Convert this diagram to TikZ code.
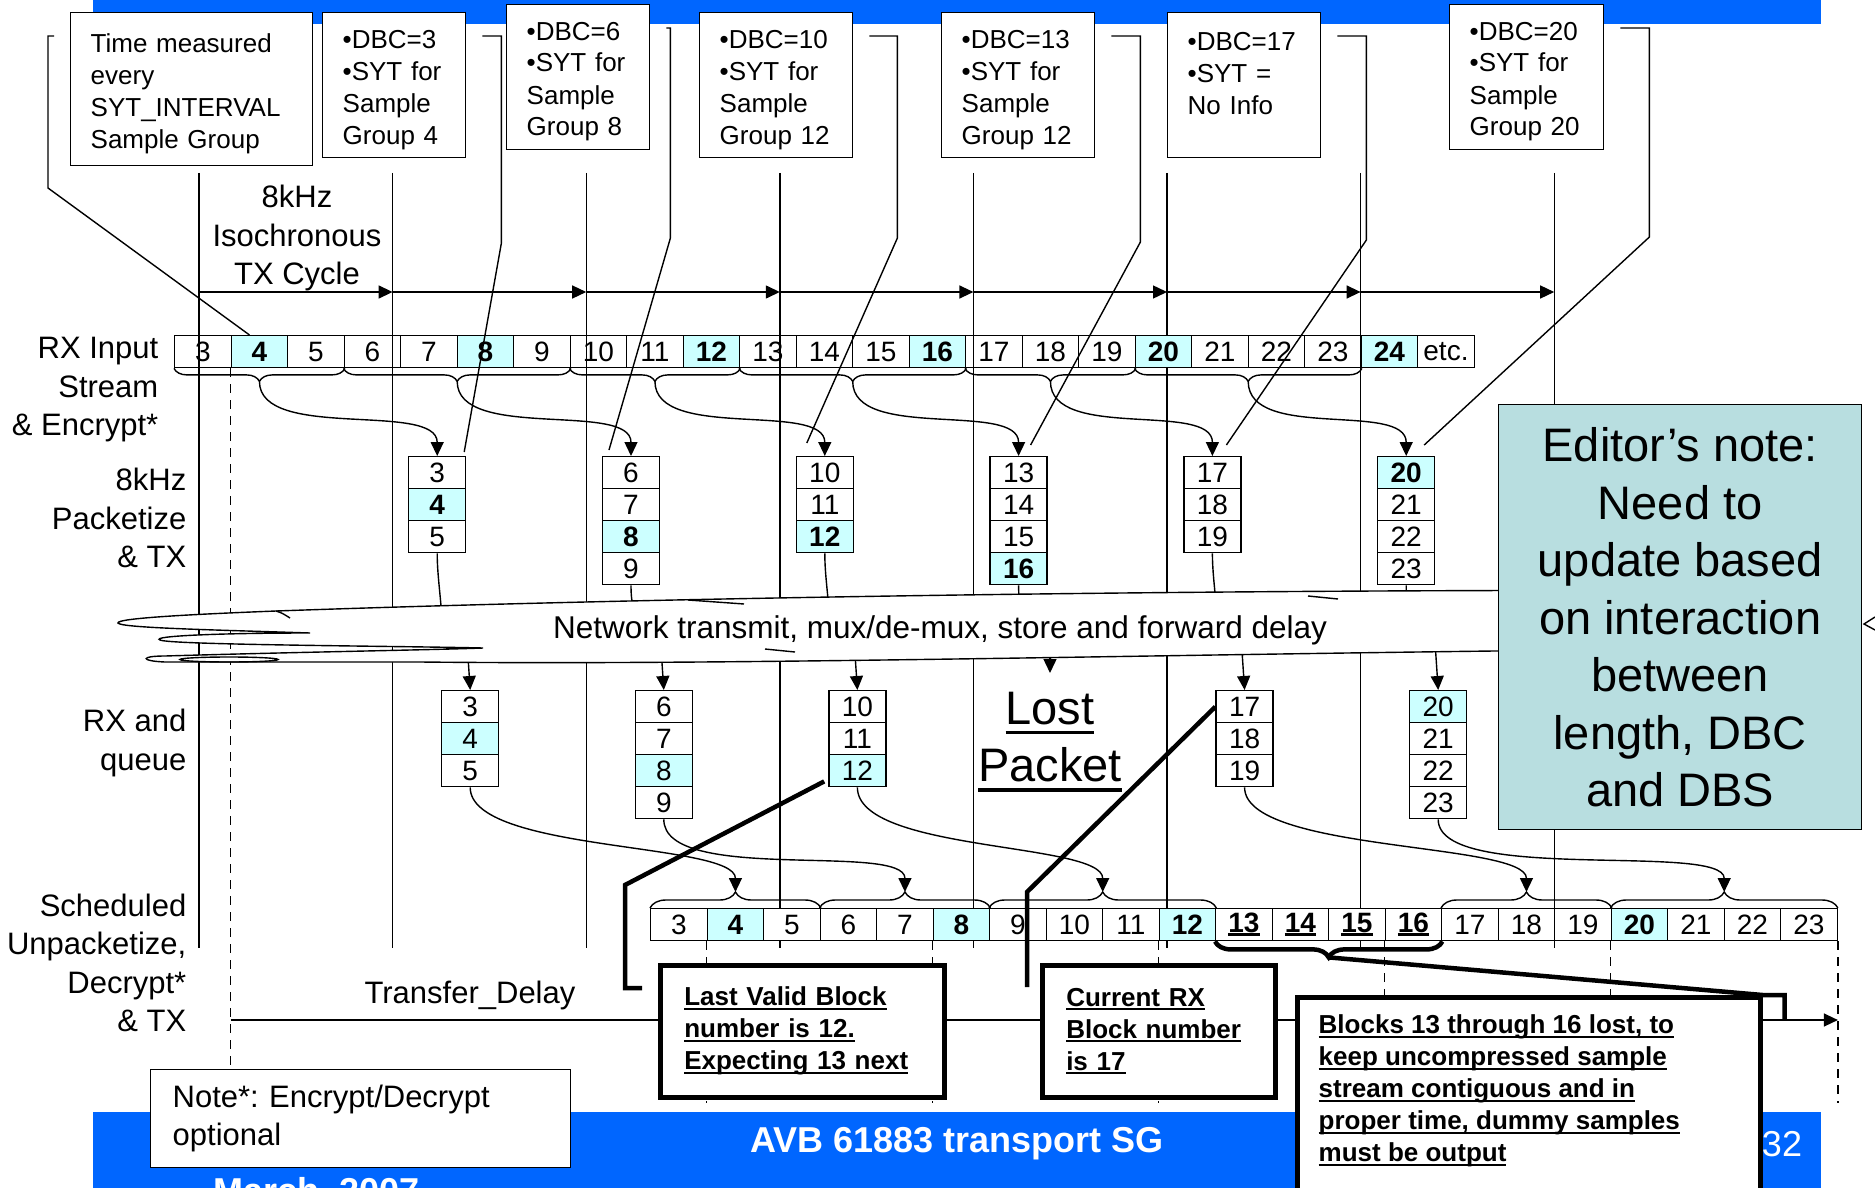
\documentclass[tikz,border=0pt]{standalone}
\usepackage{fontspec}
\setmainfont{Liberation Sans}
\usetikzlibrary{calc, arrows.meta, decorations.pathreplacing}

\definecolor{barblue}{HTML}{0066FF}
\definecolor{hotcyan}{HTML}{CCFFFF}
\definecolor{notegreen}{HTML}{B8DEE0}

\newcommand{\cellfont}{\fontsize{28}{32}\selectfont}
\newcommand{\boxfont}{\fontsize{26}{32}\selectfont}
\newcommand{\sidefont}{\fontsize{31}{38.5}\selectfont}
\newcommand{\edfont}{\fontsize{47}{57.5}\selectfont}
\newcommand{\callfont}{\fontsize{26}{32}\selectfont\bfseries}
\newcommand{\barfont}{\fontsize{36}{40}\selectfont}
% thick underline: depth, thickness, text
\newcommand{\barunder}[3]{\leavevmode\setbox0=\hbox{#3}\rlap{\rule[-#1]{\wd0}{#2}}\box0}
% pushes box text a little down
\newcommand{\topgap}{\rule{0pt}{27pt}}

\begin{document}
\frenchspacing
\begin{tikzpicture}[x=1pt, y=-1pt, line width=1.4pt,
  cell/.style={draw, minimum width=56.5pt, minimum height=32pt, inner sep=0pt, anchor=north west, font=\cellfont},
  hot/.style={cell, fill=hotcyan, font=\cellfont\bfseries},
  ocell/.style={cell, fill=white},
  pk/.style={cell, fill=white, minimum width=57pt},
  pkhot/.style={pk, fill=hotcyan, font=\cellfont\bfseries},
  qhot/.style={pk, fill=hotcyan},
  dbc/.style={draw, fill=white, anchor=north west, align=left, inner xsep=20pt, inner ysep=0pt,
    minimum height=145pt, font=\boxfont, text width=#1},
  side/.style={anchor=east, align=right, inner sep=0pt, font=\sidefont},
  callbox/.style={draw, line width=4.5pt, fill=white, anchor=north west, align=left,
    inner xsep=24pt, minimum height=132pt, font=\callfont},
  callline/.style={line width=4.5pt},
  dashline/.style={dash pattern=on 9pt off 7pt},
  flow/.style={-{Triangle[length=14pt,width=13pt]}}]

  % page and slide bars
  \useasboundingbox (0,0) rectangle (1875,1188);
  \clip (0,0) rectangle (1875,1188);
  \fill[white] (0,0) rectangle (1875,1188);
  \fill[barblue] (93,0) rectangle (1821,24);
  \fill[barblue] (93,1112) rectangle (1821,1188);

  \coordinate (cyc) at (0,292);
  \coordinate (mid) at (0,630);
  \coordinate (trl) at (0,1020);

  % 8kHz cycle grid
  \foreach \i in {0,...,7} {
    \coordinate (up\i) at ({199+193.6*\i}, 173);
    \coordinate (dn\i) at ({199+193.6*\i}, 948);
    \draw (up\i) -- (dn\i);
  }
  \foreach \i in {0,...,6} {
    \pgfmathtruncatemacro\j{\i+1}
    \draw[flow] (up\i |- cyc) -- (up\j |- cyc);
  }
  \node[font=\sidefont, align=center] (cycle) at (297,238) {8kHz\\Isochronous\\TX Cycle};

  % RX input stream
  \foreach \k in {3,...,24} {
    \pgfmathtruncatemacro\m{mod(\k,4)}
    \ifnum\m=0
      \node[hot] (r\k) at ({174+(\k-3)*56.5}, 335) {\k};
    \else
      \node[cell] (r\k) at ({174+(\k-3)*56.5}, 335) {\k};
    \fi
  }
  \node[cell] (retc) at (1417,335) {etc.};
  \draw[dashline] (r4.south west) -- ++(0,698);

  % row labels
  \node[side] (lin) at (159,390) {RX Input\\Stream\\\& Encrypt*};
  \node[side] (lpk) at (187,518) {8kHz\\Packetize\\\& TX};
  \node[side] (lrx) at (187,743) {RX and\\queue};
  \node[side] (lsc) at (187,963) {Scheduled\\Unpacketize,\\Decrypt*\\\& TX};

  % SYT boxes
  \node[dbc=202pt, minimum height=153pt] (tm) at (70,12) {\topgap Time measured\\every\\SYT\_INTERVAL\\Sample Group};
  \node[dbc=103pt] (d3) at (322,12) {\topgap•DBC=3\\•SYT for\\Sample\\Group 4};
  \node[dbc=103pt] (d6) at (506,4) {\topgap•DBC=6\\•SYT for\\Sample\\Group 8};
  \node[dbc=113pt] (d10) at (699,12) {\topgap•DBC=10\\•SYT for\\Sample\\Group 12};
  \node[dbc=113pt] (d13) at (941,12) {\topgap•DBC=13\\•SYT for\\Sample\\Group 12};
  \node[dbc=113pt] (d17) at (1167,12) {\topgap•DBC=17\\•SYT =\\No Info\\\mbox{}};
  \node[dbc=114pt] (d20) at (1449,4) {\topgap•DBC=20\\•SYT for\\Sample\\Group 20};

  % packetize & TX
  \foreach \col/\lo/\hi in {0/3/5, 1/6/9, 2/10/12, 3/13/16, 4/17/19, 5/20/23} {
    \foreach \k in {\lo,...,\hi} {
      \pgfmathtruncatemacro\m{mod(\k,4)}
      \ifnum\m=0
        \node[pkhot] (t\k) at ({408+193.8*\col}, {456+32*(\k-\lo)}) {\k};
      \else
        \node[pk] (t\k) at ({408+193.8*\col}, {456+32*(\k-\lo)}) {\k};
      \fi
    }
  }

  % RX and queue
  \foreach \col/\lo/\hi in {0/3/5, 1/6/9, 2/10/12, 4/17/19, 5/20/23} {
    \foreach \k in {\lo,...,\hi} {
      \pgfmathtruncatemacro\m{mod(\k,4)}
      \ifnum\m=0
        \node[qhot] (q\k) at ({441+193.6*\col}, {690+32*(\k-\lo)}) {\k};
      \else
        \node[pk] (q\k) at ({441+193.6*\col}, {690+32*(\k-\lo)}) {\k};
      \fi
    }
  }

  % input groups into packets
  \foreach \a/\b in {3/5, 6/9, 10/12, 13/16, 17/19, 20/23} {
    \draw[decorate, decoration={brace, mirror, amplitude=13pt}] (r\a.south west) -- (r\b.south east);
    \coordinate (g\a) at ($(r\a.south west)!0.5!(r\b.south east)+(0,13)$);
    \draw[flow] (g\a) .. controls +(0,60) and +(0,-55) .. (t\a.north);
  }

  % SYT boxes to packets
  \draw ($(tm.north west)+(-16,24)$) -| ($(tm.north west)+(-22,176)$) -- ($(r4.north west)+(19,0)$);
  \foreach \bx/\hx/\vy/\tg/\ex/\ey in {d3/19/207/t3/27/-4, d6/4/210/t6/-22/-6, d10/28/202/t10/-18/-13,
      d13/29/206/t13/12/-11, d17/29/204/t17/14/-11, d20/29/209/t20/18/-11}
    \draw ($(\bx.north east)+(16,24)$) -- ++(\hx,0) -- ++(0,\vy) -- ($(\tg.north)+(\ex,\ey)$);

  % through the network
  \node[font=\edfont, align=center] (lostp) at (1050,742) {\barunder{10pt}{3.5pt}{Lost}\\\barunder{10pt}{3.5pt}{Packet}};
  \foreach \n in {5,9,12,16,19,23}
    \draw (t\n.south) .. controls +(0,25) and +(0,-25) .. ($(t\n.south |- mid)+(5,0)$);
  \foreach \n in {3,6,10,17,20}
    \draw[flow] ($(q\n.north |- mid)+(-4,0)$) -- (q\n.north);
  \draw[flow] (lostp.north |- mid) -- ++(0,43);

  % cloud
  \draw[fill=white] (276,611) .. controls (700,596) and (1300,588) .. (1850,591)
    -- (1850,648) .. controls (1300,650) and (800,666) .. (420,662)
    -- (165,662) .. controls (140,661) and (140,656) .. (165,656)
    .. controls (300,652) and (430,650) .. (483,648)
    .. controls (400,646) and (170,645) .. (160,640)
    .. controls (150,636) and (220,633) .. (310,633)
    .. controls (220,630) and (120,628) .. (118,623)
    .. controls (116,618) and (200,614) .. (276,611) -- cycle;
  \draw (229,659.5) ellipse [x radius=49pt, y radius=2.5pt];
  \draw (276,611) .. controls (282,613) .. (290,618);
  \draw (688,600) -- (744,604);
  \draw (765,649) -- (795,652);
  \draw (1308,596) -- (1338,599);
  \node[font=\fontsize{31.5}{38}\selectfont] (net) at (940,630) {Network transmit, mux/de-mux, store and forward delay};

  % scheduled output
  \foreach \k in {3,...,23} {
    \pgfmathtruncatemacro\m{mod(\k,4)}
    \ifnum\m=0
      \node[hot] (s\k) at ({650+(\k-3)*56.5}, 908) {\k};
    \else
      \node[ocell] (s\k) at ({650+(\k-3)*56.5}, 908) {\k};
    \fi
  }
  \foreach \k in {13,...,16}
    \node[ocell, font=\cellfont\bfseries] (s\k) at ({650+(\k-3)*56.5}, 908) {\barunder{4pt}{3pt}{\k}};
  \foreach \a/\b/\src in {3/5/q5, 6/8/q9, 9/12/q12, 17/19/q19, 20/23/q23} {
    \draw[decorate, decoration={brace, amplitude=16pt}] (s\a.north west) -- (s\b.north east);
    \coordinate (h\a) at ($(s\a.north west)!0.5!(s\b.north east)+(0,-16)$);
    \draw[flow] (\src.south) .. controls +(0,65) and +(0,-50) .. (h\a);
  }
  \foreach \n in {4,8,12,16,20}
    \draw[dashline] (s\n.south west) -- ++(0,162);
  \draw[dashline] (s23.south east) -- ++(0,162);

  % transfer delay
  \draw[flow] (r4.south west |- trl) -- (s23.south east |- trl);
  \node[font=\sidefont] (tdl) at (470,995) {Transfer\_Delay};

  % callouts
  \node[callbox, text width=236pt] (lv) at (658,963)
    {\barunder{4pt}{2pt}{Last Valid Block}\\\barunder{4pt}{2pt}{number is 12.}\\\barunder{4pt}{2pt}{Expecting 13 next}};
  \node[callbox, text width=185pt] (crx) at (1040,963)
    {\barunder{4pt}{2pt}{Current RX}\\\barunder{4pt}{2pt}{Block number}\\\barunder{4pt}{2pt}{is 17}};
  \node[draw, callline, fill=white, anchor=north west, minimum width=463pt, minimum height=240pt] (blk) at (1295,995) {};
  \node[anchor=north west, align=left, inner sep=0pt, font=\callfont] (blktxt) at (1318,1014)
    {\barunder{4pt}{2pt}{Blocks 13 through 16 lost, to}\\\barunder{4pt}{2pt}{keep uncompressed sample}\\
     \barunder{4pt}{2pt}{stream contiguous and in}\\\barunder{4pt}{2pt}{proper time, dummy samples}\\
     \barunder{4pt}{2pt}{must be output}};

  \draw[callline, decorate, decoration={brace, mirror, amplitude=16pt}] (s13.south west) -- (s16.south east);
  \coordinate (lostb) at ($(s13.south west)!0.5!(s16.south east)+(0,16)$);
  \draw[callline] ($(q12.south west)+(-4,-6)$) -- ($(lv.north west)+(-33,-78)$) |- ($(lv.north west)+(-16,25)$);
  \draw[callline] (q17.west) -- ($(crx.north west)+(-13,-71)$) -- ($(crx.north west)+(-13,24)$);
  \draw[callline] (lostb) -- (blk.north east) -- ++(22,0) -- ++(0,25);

  % editor's note
  \node[draw, fill=notegreen, anchor=north west, minimum width=363pt, minimum height=425pt,
    align=center, font=\edfont] (ed) at (1498,404)
    {Editor’s note:\\Need to\\update based\\on interaction\\between\\length, DBC\\and DBS};
  \draw (1875,617) -- (1864,624) -- (1875,630);

  % footnote and footer
  \node[draw, fill=white, anchor=north west, minimum height=98pt, text width=376pt, inner xsep=22pt,
    align=left, font=\sidefont] (nt) at (150,1069) {Note*: Encrypt/Decrypt\\optional};
  \node[text=white, font=\barfont\bfseries] (title) at (957,1144) {AVB 61883 transport SG};
  \node[text=white, font=\barfont] (pg) at (1782,1144) {32};
  \node[text=white, font=\barfont\bfseries] (date) at (317,1193) {March, 2007};
\end{tikzpicture}
\end{document}
